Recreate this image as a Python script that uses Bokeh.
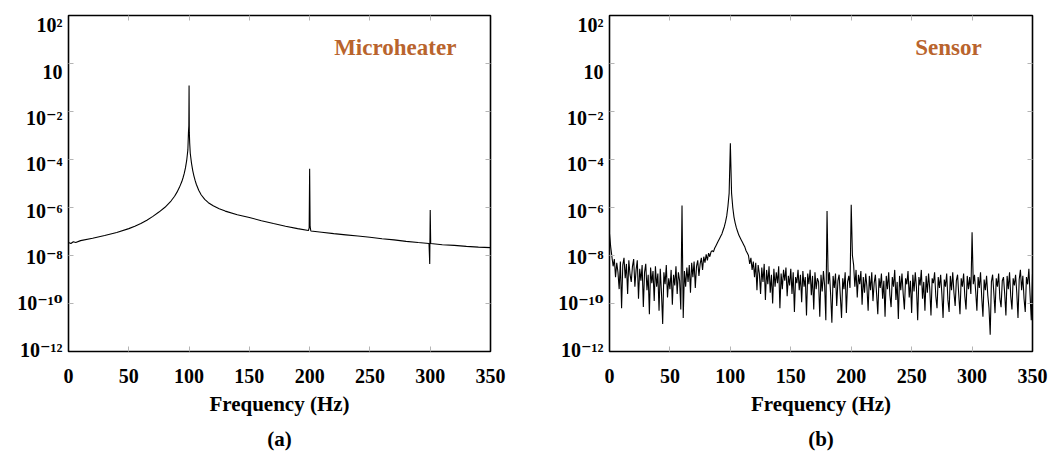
import numpy as np
from bokeh.plotting import figure
from bokeh.layouts import row
from bokeh.models import (Range1d, FixedTicker, LinearAxis, LogAxis, LogScale, Label,
                          Title, CustomJSTickFormatter)
from bokeh.embed import file_html
from bokeh.resources import INLINE

# ---------------- data ----------------
heater_freq = [0, 2, 4, 6, 10, 20, 30, 40, 50,
               55, 60, 65, 70, 75, 80, 85,
               88, 90, 92, 94, 95, 96, 97, 98, 99,
               99.5, 99.8, 100, 100.2, 100.5,
               101, 102, 103, 104, 105, 106, 108, 110,
               113, 116, 120, 125, 130, 140, 150, 160, 170, 180, 190,
               199, 199.6, 200, 200.4, 201,
               210, 220, 230, 240, 250, 260, 270, 280, 290,
               299, 299.6, 300, 300.4,
               310, 320, 330, 340, 350]
heater_log10 = [-7.46, -7.50, -7.43, -7.46, -7.38, -7.28, -7.17, -7.04, -6.88,
                -6.78, -6.67, -6.53, -6.37, -6.19, -5.99, -5.73,
                -5.53, -5.36, -5.16, -4.92, -4.76, -4.58, -4.35, -4.05, -3.60,
                -2.86, -2.60, -0.92, -2.86, -3.30,
                -3.75, -4.15, -4.45, -4.68, -4.87, -5.03, -5.28, -5.47,
                -5.66, -5.80, -5.93, -6.05, -6.15, -6.30, -6.42, -6.55, -6.67, -6.78, -6.88,
                -6.96, -6.85, -4.39, -6.80, -6.98,
                -7.03, -7.09, -7.14, -7.19, -7.24, -7.30, -7.35, -7.41, -7.46,
                -7.50, -8.35, -6.10, -7.50,
                -7.55, -7.58, -7.62, -7.65, -7.67]

sensor_freq = list(range(0, 351))
sensor_log10 = [
    -7.10, -7.65, -8.05, -8.45, -8.15, -8.90, -8.30, -8.70, -9.40, -8.25,   # 0
    -10.20, -8.40, -8.10, -8.95, -8.35, -9.60, -8.20, -8.80, -9.10, -8.45,  # 10
    -8.15, -9.30, -8.60, -8.20, -9.80, -8.55, -9.05, -8.40, -10.15, -8.70,  # 20
    -8.35, -9.45, -8.80, -10.45, -8.50, -9.15, -8.65, -9.90, -8.45, -9.30,  # 30
    -8.75, -10.30, -8.55, -9.55, -10.85, -8.70, -9.20, -8.40, -9.75, -8.95, # 40
    -9.40, -8.60, -10.05, -8.80, -9.25, -8.45, -9.60, -8.70, -9.05, -10.25, # 50
    -5.92, -10.60, -8.65, -9.30, -8.50, -9.10, -8.40, -9.55, -8.30, -8.90,  # 60
    -8.25, -9.35, -8.45, -8.20, -8.85, -8.35, -8.10, -8.60, -8.05, -8.30,   # 70
    -7.95, -8.20, -7.90, -8.05, -7.85, -7.80, -7.85, -7.70, -7.60, -7.50,   # 80
    -7.40, -7.30, -7.20, -7.10, -6.95, -6.80, -6.60, -6.35, -5.95, -5.40,   # 90
    -3.32, -5.40, -6.00, -6.40, -6.65, -6.85, -7.00, -7.15, -7.25, -7.35,   # 100
    -7.45, -7.55, -7.65, -7.80, -7.90, -8.00, -8.35, -8.10, -8.60, -8.25,   # 110
    -8.90, -8.30, -9.45, -8.40, -8.75, -9.60, -8.50, -9.10, -8.35, -9.85,   # 120
    -8.60, -9.20, -8.45, -9.55, -8.80, -10.00, -8.55, -9.30, -8.70, -9.15,  # 130
    -8.45, -10.20, -8.75, -9.40, -8.60, -9.05, -8.50, -9.70, -8.85, -9.25,  # 140
    -8.55, -9.60, -8.70, -10.35, -8.90, -9.15, -8.60, -9.45, -8.80, -9.95,  # 150
    -8.65, -9.30, -8.90, -10.50, -8.75, -9.20, -8.60, -9.65, -8.85, -10.25, # 160
    -8.70, -9.40, -8.95, -9.10, -10.55, -8.80, -9.50, -8.65, -9.25, -10.70, # 170
    -6.15, -9.20, -8.70, -9.65, -10.80, -8.85, -9.35, -8.75, -10.10, -9.05, # 180
    -8.80, -9.70, -10.60, -8.95, -9.40, -8.70, -10.40, -9.10, -8.85, -9.35, # 190
    -5.89, -8.00, -8.40, -9.30, -8.60, -9.75, -8.80, -9.20, -8.65, -10.05,  # 200
    -8.90, -9.55, -8.75, -9.30, -10.30, -8.85, -9.45, -8.70, -9.90, -9.15,  # 210
    -8.80, -9.60, -10.45, -8.95, -9.35, -8.75, -9.80, -9.05, -10.55, -8.85, # 220
    -9.40, -8.70, -9.65, -10.15, -8.90, -9.30, -8.60, -9.85, -9.10, -10.65, # 230
    -8.85, -9.45, -8.75, -9.60, -10.25, -8.95, -9.20, -8.65, -9.75, -9.05,  # 240
    -10.40, -8.80, -9.50, -8.70, -9.35, -10.70, -8.90, -9.25, -8.60, -9.80, # 250
    -9.10, -10.30, -8.85, -9.55, -8.75, -9.40, -10.50, -8.95, -9.15, -8.70, # 260
    -9.70, -10.20, -8.90, -9.35, -8.80, -9.60, -10.60, -9.00, -9.30, -8.75, # 270
    -9.85, -10.35, -8.85, -9.45, -8.70, -9.55, -10.10, -9.05, -8.80, -9.65, # 280
    -10.45, -8.95, -9.30, -8.75, -9.70, -10.25, -8.85, -9.40, -8.90, -9.60, # 290
    -7.03, -9.20, -8.80, -9.50, -10.30, -8.90, -9.35, -8.70, -9.75, -10.55, # 300
    -9.00, -9.45, -8.85, -9.65, -10.20, -11.30, -9.10, -8.80, -9.55, -10.40,# 310
    -8.95, -9.30, -8.75, -9.80, -10.15, -9.05, -8.90, -9.60, -10.50, -8.85, # 320
    -9.40, -8.70, -9.70, -10.25, -8.95, -9.25, -8.80, -9.55, -10.60, -9.00, # 330
    -8.60, -9.45, -8.85, -9.80, -10.35, -8.90, -9.20, -8.55, -9.65, -10.70, # 340
    -8.75,                                                                  # 350
]

x_ticks = [0, 50, 100, 150, 200, 250, 300, 350]
y_tick_values = [1e2, 1e0, 1e-2, 1e-4, 1e-6, 1e-8, 1e-10, 1e-12]
y_tick_labels = ["10\u00b2", "10", "10\u207b\u00b2", "10\u207b\u2074", "10\u207b\u2076",
                 "10\u207b\u2078", "10\u207b\u00b9\u2070", "10\u207b\u00b9\u00b2"]
x_title = "Frequency (Hz)"

FONT = "Liberation Serif"
YFONT = "Liberation Serif, DejaVu Serif"
TITLE_COLOR = "#B9642D"
TICK_COLOR = "#b5b5b5"

inner_x_ticks = x_ticks[1:-1]
inner_y_ticks = y_tick_values[1:-1]
y_exps = [int(round(np.log10(v))) for v in y_tick_values]


def tick_only(ax, ticks):
    ax.ticker = FixedTicker(ticks=ticks)
    ax.axis_line_color = None
    ax.major_tick_in = 5
    ax.major_tick_out = 0
    ax.major_tick_line_color = TICK_COLOR
    ax.minor_tick_line_color = None
    ax.major_label_text_color = None
    ax.major_label_text_font_size = "2px"
    ax.major_label_standoff = 0


def label_only(ax, ticks, standoff, font=FONT):
    ax.ticker = FixedTicker(ticks=ticks)
    ax.axis_line_color = None
    ax.major_tick_in = 0
    ax.major_tick_out = 0
    ax.major_tick_line_color = None
    ax.minor_tick_line_color = None
    ax.major_label_standoff = standoff
    ax.major_label_text_font = font
    ax.major_label_text_font_style = "bold"
    ax.major_label_text_font_size = "20px"
    ax.major_label_text_color = "black"


def make_panel(freq, log_amp, title, title_x, sub, sub_off, xt_off, width, left, right):
    p = figure(width=width, height=456,
               x_range=Range1d(0, 350), y_range=Range1d(1e-12, 1e2),
               y_axis_type="log", output_backend="svg", toolbar_location=None,
               min_border_left=left, min_border_right=right,
               min_border_top=15, min_border_bottom=104)
    p.grid.visible = False
    p.background_fill_color = "white"
    p.border_fill_color = "white"
    p.outline_line_color = "black"
    p.outline_line_width = 1.6

    p.line(freq, 10.0 ** np.array(log_amp), line_color="black", line_width=1.1)

    # inner tick marks on all four sides
    tick_only(p.xaxis[0], inner_x_ticks)
    tick_only(p.yaxis[0], inner_y_ticks)
    top = LinearAxis()
    tick_only(top, inner_x_ticks)
    p.add_layout(top, "above")
    rgt = LogAxis()
    tick_only(rgt, inner_y_ticks)
    p.add_layout(rgt, "right")

    # x tick labels
    xl = LinearAxis()
    label_only(xl, x_ticks, 17)
    p.add_layout(xl, "below")

    # y tick labels (slightly lowered positions, as in the original figure)
    p.extra_y_ranges = {"lab": Range1d(10 ** (-12 - 2 / 23.2), 10 ** (2 + 10 / 23.2))}
    p.extra_y_scales = {"lab": LogScale()}
    yl = LogAxis(y_range_name="lab")
    label_only(yl, y_tick_values, 6, font=YFONT)
    yl.formatter = CustomJSTickFormatter(
        args=dict(exps=y_exps, labels=y_tick_labels),
        code="const e = Math.round(Math.log10(tick)); const i = exps.indexOf(e); return i >= 0 ? labels[i] : '';")
    p.add_layout(yl, "left")

    p.add_layout(Title(text=x_title, align="center", offset=xt_off, standoff=8,
                       text_font=FONT, text_font_style="bold", text_font_size="21px",
                       text_color="black"), "below")
    p.add_layout(Title(text=sub, align="center", offset=sub_off, standoff=11,
                       text_font=FONT, text_font_style="bold", text_font_size="21px",
                       text_color="black"), "below")

    p.add_layout(Label(x=title_x, y=10 ** 0.67, text=title, text_align="center",
                       text_baseline="middle", text_font=FONT, text_font_style="bold",
                       text_font_size="23px", text_color=TITLE_COLOR))
    return p


p1 = make_panel(heater_freq, heater_log10, "Microheater", 271, "(a)", -13, 7,
                width=540, left=68, right=50)
p2 = make_panel(sensor_freq, sensor_log10, "Sensor", 280.5, "(b)", -24, 9,
                width=521, left=69, right=29)

layout = row(p1, p2)
open("out.html", "w").write(file_html(layout, INLINE))
